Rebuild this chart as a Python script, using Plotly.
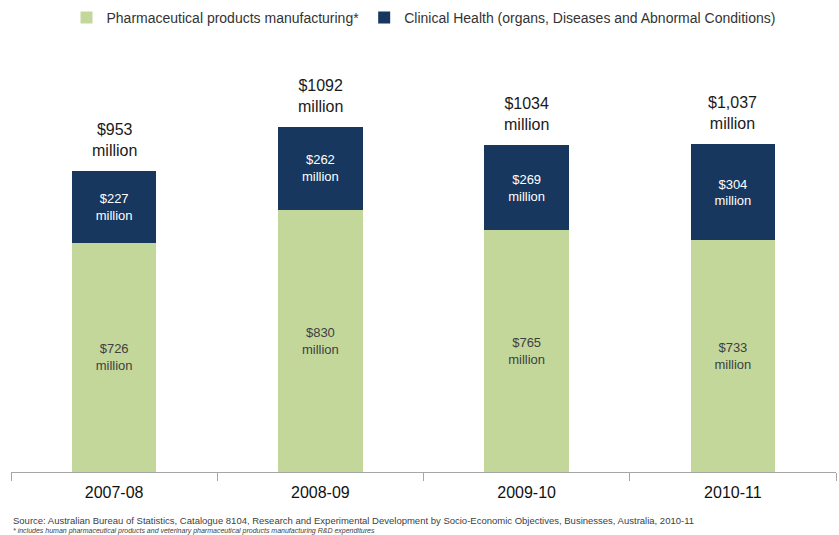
import plotly.graph_objects as go

years = ["2007-08", "2008-09", "2009-10", "2010-11"]
pharma = [726, 830, 765, 733]
clinical = [227, 262, 269, 304]
total_labels = ["$953", "$1092", "$1034", "$1,037"]

GREEN = "#C4D79B"
NAVY = "#17375E"
FONT = "Liberation Sans, Arial, sans-serif"

fig = go.Figure()
fig.add_trace(go.Bar(
    x=years, y=pharma, name="Pharmaceutical products manufacturing*",
    marker=dict(color=GREEN, line=dict(width=0)),
    text=[f"${v}<br>million" for v in pharma],
    textposition="inside", insidetextanchor="middle",
    textfont=dict(color="#404040", size=13, family=FONT),
    hoverinfo="skip",
))
fig.add_trace(go.Bar(
    x=years, y=clinical, name="Clinical Health (organs, Diseases and Abnormal Conditions)",
    marker=dict(color=NAVY, line=dict(width=0)),
    text=[f"${v}<br>million" for v in clinical],
    textposition="inside", insidetextanchor="middle",
    textfont=dict(color="white", size=13, family=FONT),
    hoverinfo="skip",
))

# Totals above each stacked column
for yr, p, c, lab in zip(years, pharma, clinical, total_labels):
    fig.add_annotation(
        x=yr, y=p + c, text=f"{lab}<br>million", showarrow=False,
        yanchor="bottom", yshift=10,
        font=dict(size=16, color="#1a1a1a", family=FONT),
    )

fig.add_annotation(
    xref="paper", yref="paper", x=0, y=-0.101, xanchor="left", yanchor="top",
    showarrow=False, align="left",
    text="Source: Australian Bureau of Statistics, Catalogue 8104, Research and Experimental Development by Socio-Economic Objectives, Businesses, Australia, 2010-11",
    font=dict(size=9.5, color="#404040", family=FONT),
)
fig.add_annotation(
    xref="paper", yref="paper", x=0, y=-0.129, xanchor="left", yanchor="top",
    showarrow=False, align="left",
    text="<i>* includes human pharmaceutical products and veterinary pharmaceutical products manufacturing R&D expenditures</i>",
    font=dict(size=7, color="#404040", family=FONT),
)

fig.update_layout(
    width=839, height=535,
    barmode="stack", bargap=0.59,
    plot_bgcolor="white", paper_bgcolor="white",
    margin=dict(l=11, r=3, t=62, b=63),
    font=dict(family=FONT),
    showlegend=True,
    legend=dict(
        orientation="h", x=0.5, xanchor="center",
        yref="container", y=1 - 18 / 535, yanchor="middle",
        font=dict(size=14, color="#333333"),
        traceorder="normal", itemwidth=30,
    ),
    xaxis=dict(
        type="category",
        showline=True, linecolor="#A6A6A6", linewidth=1,
        ticks="outside", tickson="boundaries", ticklen=8, tickcolor="#A6A6A6",
        ticklabelstandoff=6,
        tickfont=dict(size=16, color="#111111"),
        showgrid=False,
    ),
    yaxis=dict(range=[0, 1298], visible=False, showgrid=False),
)

fig.write_html("out.html")
